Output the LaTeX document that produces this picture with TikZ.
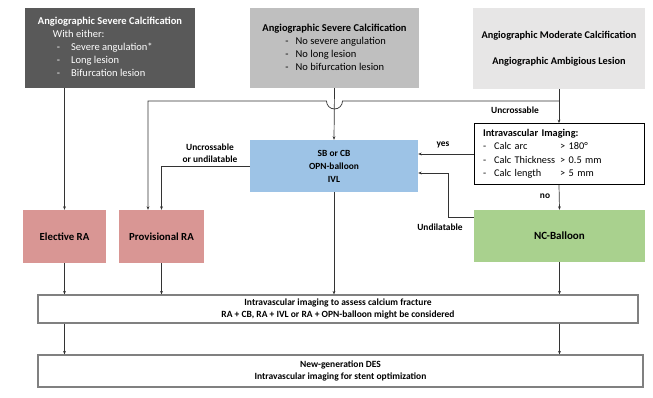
\documentclass[tikz,border=0pt]{standalone}
\usepackage{fontspec}
\setmainfont{Carlito}
\usepackage{xcolor}
\usetikzlibrary{arrows.meta}
\definecolor{calc-dark}{HTML}{595959}
\definecolor{calc-mid}{HTML}{BFBFBF}
\definecolor{calc-light}{HTML}{E7E6E6}
\definecolor{tool-blue}{HTML}{9DC3E6}
\definecolor{ra-pink}{HTML}{D99694}
\definecolor{nc-green}{HTML}{A9D18E}
\definecolor{line-gray}{HTML}{333333}

\begin{document}
\begin{tikzpicture}[x=1pt, y=-1pt,
      every node/.style={font=\fontsize{10.5}{13}\selectfont},
      box/.style={inner sep=0pt, align=center},
      lbl/.style={font=\fontsize{9.4}{11.8}\selectfont\bfseries, align=center, inner sep=0pt},
      link/.style={draw=line-gray, line width=0.7pt},
      arr/.style={link, -{Stealth[length=3.5pt, width=2.8pt]}}]
    \useasboundingbox (0,0) rectangle (653,397);
    % top row: angiographic findings
    \node[box, fill=calc-dark, text=white, minimum width=170pt, minimum height=80pt] (sev1) at (110,48)
      {\begin{tabular}{@{}l@{}}
        \multicolumn{1}{@{}c@{}}{\textbf{Angiographic Severe Calcification}}\\
        \hspace*{15pt}With either:\\
        \hspace*{19pt}-\hspace*{11pt}Severe angulation*\\
        \hspace*{19pt}-\hspace*{11pt}Long lesion\\
        \hspace*{19pt}-\hspace*{11pt}Bifurcation lesion
      \end{tabular}};
    \node[box, fill=calc-mid, minimum width=169pt, minimum height=80pt] (sev2) at (334.5,48)
      {\begin{tabular}{@{}l@{}}
        \multicolumn{1}{@{}c@{}}{\textbf{Angiographic Severe Calcification}}\\
        \hspace*{23pt}-\hspace*{7pt}No severe angulation\\
        \hspace*{23pt}-\hspace*{7pt}No long lesion\\
        \hspace*{23pt}-\hspace*{7pt}No bifurcation lesion
      \end{tabular}};
    \node[box, fill=calc-light, minimum width=172pt, minimum height=81pt, font=\fontsize{10.3}{12.5}\selectfont\bfseries] (mod) at (559,48.5)
      {Angiographic Moderate Calcification\\[13pt] Angiographic Ambigious Lesion};
    % middle row
    \node[box, fill=tool-blue, minimum width=168pt, minimum height=52pt, font=\fontsize{9.4}{13}\selectfont\bfseries] (sb) at (334,166)
      {SB or CB\\OPN-balloon\\IVL};
    \node[box, draw=black, line width=0.8pt, fill=white, inner xsep=9pt, text width=152pt, align=left,
          minimum height=61pt, font=\fontsize{10.3}{13.5}\selectfont] (ivi) at (559,154)
      {\begin{tabular}{@{}l@{\hspace{8pt}}l@{\hspace{5pt}}l@{}}
        \multicolumn{3}{@{}l@{}}{\textbf{Intravascular Imaging:}}\\
        - & Calc arc & > 180°\\
        - & Calc Thickness & > 0.5 mm\\
        - & Calc length & > 5 mm
      \end{tabular}};
    \node[box, fill=ra-pink, minimum width=83pt, minimum height=53pt, font=\fontsize{10.8}{13}\selectfont\bfseries] (elec) at (64.5,236.5) {Elective RA};
    \node[box, fill=ra-pink, minimum width=85pt, minimum height=53pt, font=\fontsize{10.8}{13}\selectfont\bfseries] (prov) at (161.5,236.5) {Provisional RA};
    \node[box, fill=nc-green, minimum width=171pt, minimum height=52pt, font=\fontsize{11}{13}\selectfont\bfseries] (nc) at (559.5,236) {NC-Balloon};
    % bottom row
    \node[box, draw=gray, line width=1.2pt, fill=white, minimum width=600pt, minimum height=28pt,
          font=\fontsize{9.5}{12.5}\selectfont\bfseries] (big1) at (338,309)
      {Intravascular imaging to assess calcium fracture\\RA + CB, RA + IVL or RA + OPN-balloon might be considered};
    \node[box, draw=gray, line width=1.2pt, fill=white, minimum width=605pt, minimum height=32pt,
          font=\fontsize{9.5}{12.5}\selectfont\bfseries] (big2) at (340.5,371)
      {New-generation DES\\Intravascular imaging for stent optimization};
    % connectors
    \coordinate (split) at (559,101);
    \coordinate (hop) at (334.5,101);
    \coordinate (provin) at (148,101);
    \coordinate (ncout) at ([yshift=19pt]nc.west);
    \coordinate (sbin) at ([yshift=-7pt]sb.east);
    \draw[arr] (sev1.south -| elec.north) -- (elec.north);
    \draw[arr] (sev2.south) -- (sb.north);
    \draw[arr] (mod.south) -- (ivi.north);
    \draw[arr] (split) -- ([xshift=8pt]hop) arc[start angle=0, end angle=180, radius=8] -- (provin) -- (provin |- prov.north);
    \draw[arr] (sb.west) -- (sb.west -| prov.north) -- (prov.north);
    \draw[arr] (ivi.west) -- (ivi.west -| sb.east);
    \draw[arr] (ivi.south) -- (nc.north);
    \draw[arr] (ncout) -- ++(-25,0) |- (sbin);
    \draw[arr] (sb.south) -- (sb.south |- big1.north);
    \draw[arr] (elec.south) -- (elec.south |- big1.north);
    \draw[arr] (prov.south) -- (prov.south |- big1.north);
    \draw[arr] (nc.south) -- (nc.south |- big1.north);
    \draw[arr] (big1.south -| elec.south) -- (big2.north -| elec.south);
    \draw[arr] (big1.south -| nc.south) -- (big2.north -| nc.south);
    % labels
    \node[lbl] (l-uncr) at (515,110) {Uncrossable};
    \node[lbl] (l-uncdil) at (210,153) {Uncrossable\\or undilatable};
    \node[lbl] (l-yes) at (443,145) {yes};
    \node[lbl] (l-no) at (545,196) {no};
    \node[lbl] (l-undil) at (440,227) {Undilatable};
  \end{tikzpicture}
\end{document}
